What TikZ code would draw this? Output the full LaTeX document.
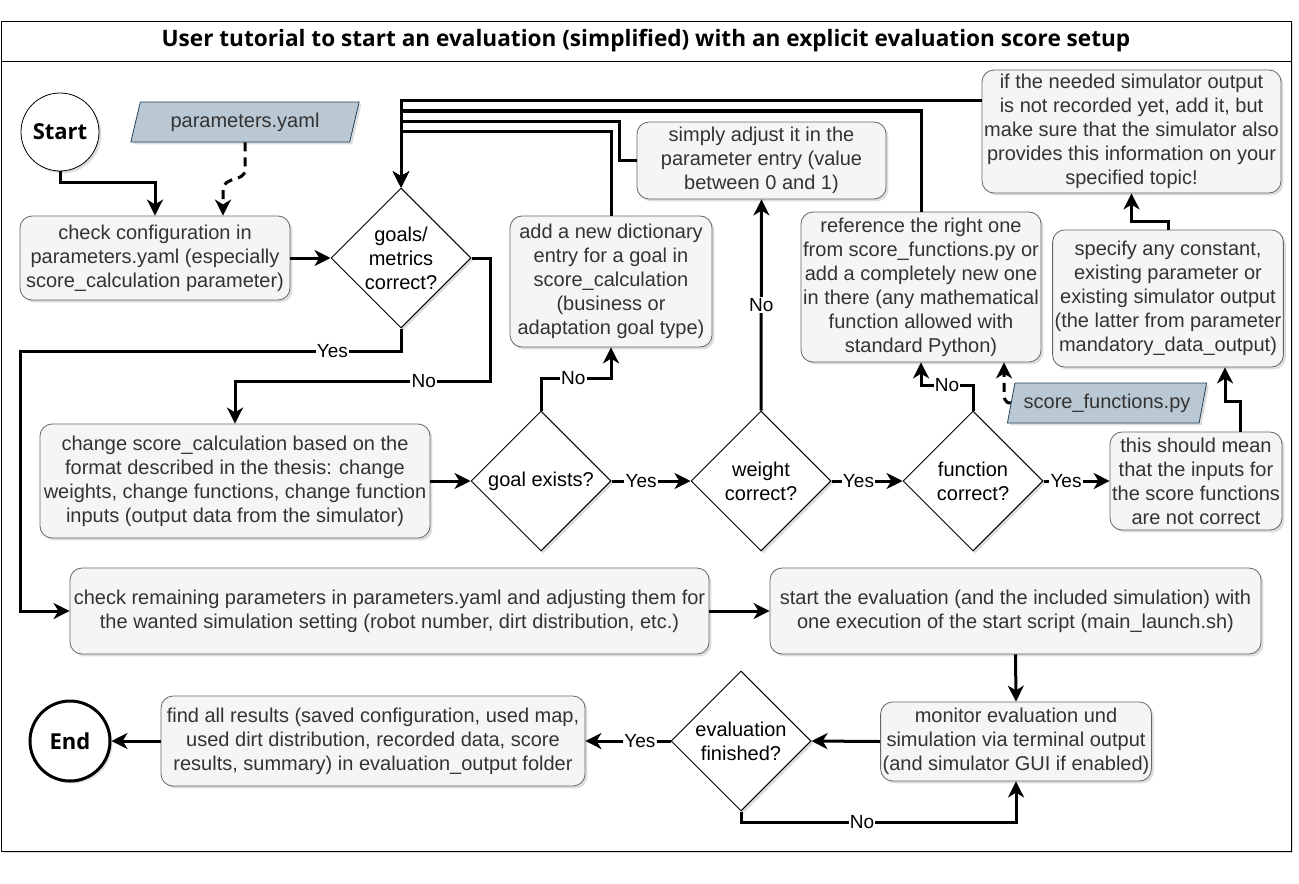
\documentclass[tikz,border=0pt]{standalone}
\usepackage{fontspec}
\setmainfont{Liberation Sans}
\newfontfamily\headfont{Open Sans}
\usetikzlibrary{positioning,shapes.geometric,arrows.meta,shadows}
\definecolor{boxfill}{HTML}{F5F5F5}
\definecolor{boxline}{HTML}{666666}
\definecolor{boxtext}{HTML}{333333}
\definecolor{datafill}{HTML}{BAC8D3}
\definecolor{dataline}{HTML}{23445D}

\begin{document}
\begin{tikzpicture}[x=0.5pt, y=-0.5pt,
    font=\fontsize{10}{12}\selectfont,
    shade/.style={drop shadow={shadow xshift=1.2pt, shadow yshift=-1.2pt, opacity=0.22, fill=black!60}},
    process/.style={draw=boxline, fill=boxfill, text=boxtext, rounded corners=6pt, align=center, inner sep=1pt, shade},
    decision/.style={draw, line width=0.5pt, fill=white, diamond, aspect=1, minimum size=70pt, inner sep=0pt, align=center, shade},
    terminal/.style={draw, circle, fill=white, inner sep=0pt, font=\headfont\bfseries\fontsize{11}{13}\selectfont, shade},
    datafile/.style={trapezium, trapezium left angle=73, trapezium right angle=107, trapezium stretches=true, draw=dataline, fill=datafill, text=boxtext, minimum height=20pt, inner sep=1pt, shade},
    flow/.style={line width=1.5pt, -{Stealth[length=8pt, width=8pt, inset=2.4pt]}},
    dashflow/.style={flow, dash pattern=on 4.5pt off 3pt},
    answer/.style={fill=white, inner sep=0.6pt, font=\fontsize{9.5}{11}\selectfont}
]
    \fill[white] (0,0) rectangle (1299,883);
    \useasboundingbox (0,0) rectangle (1299,883);
    % Frame
    \draw[fill=white, shade] (1,21) rectangle (1291,851);
    \draw (1,61) -- (1291,61);
    \node[font=\headfont\bfseries\fontsize{11.3}{13}\selectfont] (title) at (646,41) {User tutorial to start an evaluation (simplified) with an explicit evaluation score setup};
    % Nodes
    \node[terminal, minimum size=39pt] (start) at (60,132) {Start};
    \node[datafile, minimum width=115pt] (yaml) at (245,122) {parameters.yaml};
    \node[process, minimum width=135pt, minimum height=42pt] (check) at (155,258) {check configuration in\\parameters.yaml (especially\\score\_calculation parameter)};
    \node[decision] (goals) at (401,258) {goals/\\metrics\\correct?};
    \node[process, minimum width=101pt, minimum height=65.5pt] (dict) at (611,281.5) {add a new dictionary\\entry for a goal in\\score\_calculation\\(business or\\adaptation goal type)};
    \node[process, minimum width=124.5pt, minimum height=38.5pt] (simply) at (761.5,160.5) {simply adjust it in the\\parameter entry (value\\between 0 and 1)};
    \node[process, minimum width=120pt, minimum height=75pt] (reference) at (921,287) {reference the right one\\from score\_functions.py or\\add a completely new one\\in there (any mathematical\\function allowed with\\standard Python)};
    \node[process, minimum width=149.5pt, minimum height=61.5pt] (recorded) at (1131.5,131.5) {if the needed simulator output\\is not recorded yet, add it, but\\make sure that the simulator also\\provides this information on your\\specified topic!};
    \node[process, minimum width=115pt, minimum height=68.5pt] (specify) at (1168,298.5) {specify any constant,\\existing parameter or\\existing simulator output\\(the latter from parameter\\mandatory\_data\_output)};
    \node[datafile, minimum width=100pt] (pyfile) at (1107,403) {score\_functions.py};
    \node[process, minimum width=195pt, minimum height=57pt] (change) at (235,481) {change score\_calculation based on the\\format described in the thesis: change\\weights, change functions, change function\\inputs (output data from the simulator)};
    \node[decision] (gexist) at (541,481) {goal exists?};
    \node[decision] (weight) at (761,481) {weight\\correct?};
    \node[decision] (func) at (973,481) {function\\correct?};
    \node[process, minimum width=85pt, minimum height=49pt] (this) at (1196,481) {this should mean\\that the inputs for\\the score functions\\are not correct};
    \node[process, minimum width=319.5pt, minimum height=43pt] (remain) at (389.5,611) {check remaining parameters in parameters.yaml and adjusting them for\\the wanted simulation setting (robot number, dirt distribution, etc.)};
    \node[process, minimum width=245.5pt, minimum height=43pt] (starteval) at (1015.5,611) {start the evaluation (and the included simulation) with\\one execution of the start script (main\_launch.sh)};
    \node[process, minimum width=135pt, minimum height=39.5pt] (monitor) at (1016,741.5) {monitor evaluation und\\simulation via terminal output\\(and simulator GUI if enabled)};
    \node[decision] (finished) at (741,741) {evaluation\\finished?};
    \node[process, minimum width=212pt, minimum height=45pt] (find) at (373,741) {find all results (saved configuration, used map,\\used dirt distribution, recorded data, score\\results, summary) in evaluation\_output folder};
    \node[terminal, line width=1.5pt, minimum size=40pt] (end) at (70,741) {End};
    % Arrows
    \draw[flow] (start.south) -- ++(0,11) -| (check.north);
    \draw[dashflow] (yaml.south) -- (245,170) .. controls (245,182) and (223,176) .. (223,190) -- ([xshift=34pt]check.north);
    \draw[flow] (check.east) -- (goals.west);
    \draw[flow] (goals.south) -- ++(0,23) -| node[answer, pos=0.09] (yes1) {Yes} (20,611) -- (remain.west);
    \draw[flow] (goals.east) -| (490,381) -| node[answer, pos=0.13] (no1) {No} (change.north);
    \draw[flow] (change.east) -- (gexist.west);
    \draw[flow] (gexist.north) -- ++(0,-32) -| node[answer, pos=0.23] (no2) {No} (dict.south);
    \draw[flow] (gexist.east) -- node[answer, pos=0.375] (yes2) {Yes} (weight.west);
    \draw[flow] (weight.north) -- node[answer] (no3) {No} (simply.south);
    \draw[flow] (weight.east) -- node[answer, pos=0.38] (yes3) {Yes} (func.west);
    \draw[flow] (func.north) -- ++(0,-25) -| node[answer, pos=0.25] (no4) {No} (reference.south);
    \draw[dashflow] (pyfile.west) .. controls (1004,403) and (1004,398) .. (1004,388) -- ([xshift=41.5pt]reference.south);
    \draw[flow] (func.east) -- node[answer, pos=0.34] (yes4) {Yes} (this.west);
    \draw[flow] ([xshift=22pt]this.north) -- ++(0,-30) -| ([xshift=28.5pt]specify.south);
    \draw[flow] (specify.north) -- ++(0,-8) -| (recorded.south);
    % back to the goals check
    \draw[flow] (recorded.west |- 0,101) -| (goals.north);
    \draw[flow] (reference.north) |- (goals.north |- 0,111) -- (goals.north);
    \draw[flow] (simply.west) -- ++(-17,0) |- (goals.north |- 0,121) -- (goals.north);
    \draw[flow] (dict.north) |- (goals.north |- 0,131) -- (goals.north);
    % run and results
    \draw[flow] (remain.east) -- (starteval.west);
    \draw[flow] (starteval.south) -- (monitor.north);
    \draw[flow] (monitor.west) -- (finished.east);
    \draw[flow] (finished.south) -- ++(0,11) -| node[answer, pos=0.22] (no5) {No} (monitor.south);
    \draw[flow] (finished.west) -- node[answer, pos=0.36] (yes5) {Yes} (find.east);
    \draw[flow] (find.west) -- (end.east);
\end{tikzpicture}
\end{document}
